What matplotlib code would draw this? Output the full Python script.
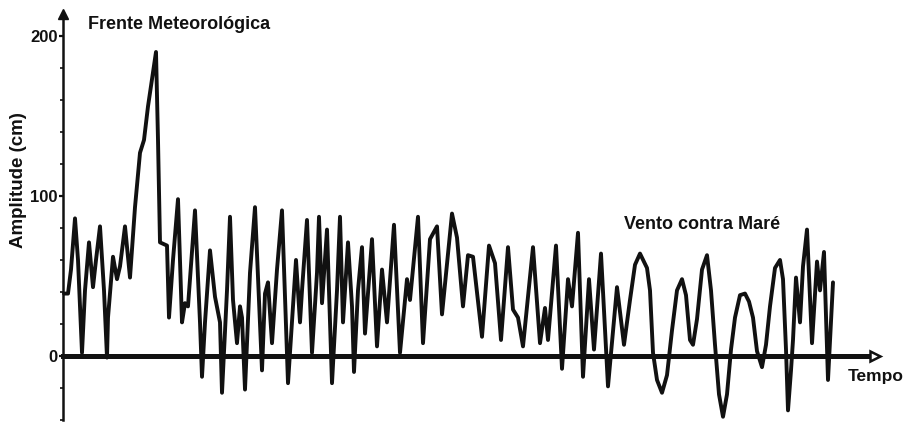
import matplotlib
matplotlib.use("Agg")
import matplotlib.pyplot as plt
from matplotlib import font_manager

# time (arbitrary units) and amplitude (cm)
tempo = [1, 5, 8, 12, 15, 19, 22, 26, 30, 33, 37, 41, 44, 45, 50, 54, 57, 62, 67, 72,
         77, 81, 85, 90, 93, 95, 97, 104, 106, 110, 115, 119, 122, 125, 132, 137, 139, 142,
         147, 152, 157, 159, 164, 167, 170, 174, 177, 179, 182, 187, 192, 197, 199, 202,
         205, 209, 214, 219, 224, 225, 229, 233, 237, 239, 244, 249, 254, 256, 259, 264,
         267, 269, 274, 277, 280, 285, 289, 291, 295, 299, 302, 309, 314, 319, 324, 331,
         337, 344, 347, 355, 360, 367, 374, 379, 389, 394, 400, 405, 410, 419, 426, 432,
         438, 445, 450, 455, 460, 470, 477, 482, 485, 493, 499, 505, 509, 515, 520, 526,
         531, 538, 545, 554, 561, 567, 572, 577, 584, 587, 590, 594, 599, 604, 609, 614,
         619, 623, 627, 630, 634, 639, 644, 648, 652, 656, 660, 664, 668, 672, 677, 682,
         686, 690, 694, 699, 703, 707, 712, 717, 720, 723, 725, 728, 730, 733, 737, 740,
         744, 749, 754, 757, 761, 765, 770]
amplitude = [39, 39, 54, 86, 60, 2, 41, 71, 43, 60, 81, 41, -1, 24, 62, 48, 56, 81, 49, 93,
             127, 135, 156, 177, 190, 135, 71, 69, 24, 60, 98, 21, 33, 31, 91, 21, -13, 21,
             66, 37, 21, -23, 41, 87, 35, 8, 31, 24, -21, 52, 93, 21, -9, 39,
             46, 8, 54, 91, 2, -17, 21, 60, 21, 41, 85, 2, 52, 87, 33, 79,
             21, -17, 41, 87, 21, 71, 31, -10, 41, 68, 14, 73, 6, 54, 21, 82,
             2, 48, 35, 87, 8, 73, 81, 26, 89, 74, 31, 63, 62, 12, 69, 58,
             10, 68, 29, 24, 6, 68, 8, 30, 10, 69, -8, 48, 31, 77, -13, 48,
             4, 64, -19, 43, 7, 35, 57, 64, 55, 41, 2, -15, -23, -12, 16, 41,
             48, 38, 10, 7, 23, 54, 63, 41, 7, -24, -38, -24, 4, 24, 38, 39,
             34, 24, 3, -7, 7, 31, 55, 60, 48, 4, -34, -9, 10, 49, 21, 56,
             79, 8, 59, 41, 65, -15, 46]
ytick_values = [0, 100, 200]
ytick_labels = ["0", "100", "200"]

installed = {f.name for f in font_manager.fontManager.ttflist}
tick_family = "Liberation Sans Narrow" if "Liberation Sans Narrow" in installed else "Liberation Sans"

fig = plt.figure(figsize=(9.06, 4.23), dpi=100)
ax = fig.add_axes([0, 0, 1, 1])
ax.set_xlim(-63, 843)
ax.set_ylim(-41.9, 222.5)

ink = "#111111"
ax.plot(tempo, amplitude, color=ink, lw=2.8, solid_joinstyle="round",
        solid_capstyle="round", zorder=3)

for s in ["top", "right"]:
    ax.spines[s].set_visible(False)
ax.spines["left"].set_position(("data", 0))
ax.spines["bottom"].set_position(("data", 0))
ax.spines["left"].set_bounds(-40, 214)
ax.spines["bottom"].set_bounds(0, 810)
ax.spines["left"].set_linewidth(1.8)
ax.spines["bottom"].set_linewidth(3.6)
ax.spines["left"].set_color(ink)
ax.spines["bottom"].set_color(ink)
ax.spines["bottom"].set_zorder(4)

# axis arrow heads
ax.plot([0], [214], marker="^", ms=7, color=ink, clip_on=False, zorder=5)
ax.plot([812], [0], marker=">", ms=7, mfc="white", mec=ink, mew=1.8,
        clip_on=False, zorder=5)

ax.set_xticks([])
ax.set_yticks(ytick_values)
ax.set_yticklabels(ytick_labels, fontsize=12, fontweight="bold", family=tick_family)
ax.set_yticks(range(-40, 211, 20), minor=True)
ax.tick_params(axis="y", which="major", length=3, width=1.6, pad=1, colors=ink)
ax.tick_params(axis="y", which="minor", length=2, width=1.2, colors=ink)

font = dict(family="Liberation Sans", fontweight="bold", color=ink)
ax.text(25, 207, "Frente Meteorológica", fontsize=13, va="center", ha="left", **font)
ax.text(561, 82, "Vento contra Maré", fontsize=13, va="center", ha="left", **font)
ax.text(785, -13, "Tempo", fontsize=12.5, va="center", ha="left", **font)
ax.text(-44, 110, "Amplitude (cm)", fontsize=13.5, va="center", ha="center",
        rotation=90, **font)

fig.savefig("out.png", dpi=100, facecolor="white")
